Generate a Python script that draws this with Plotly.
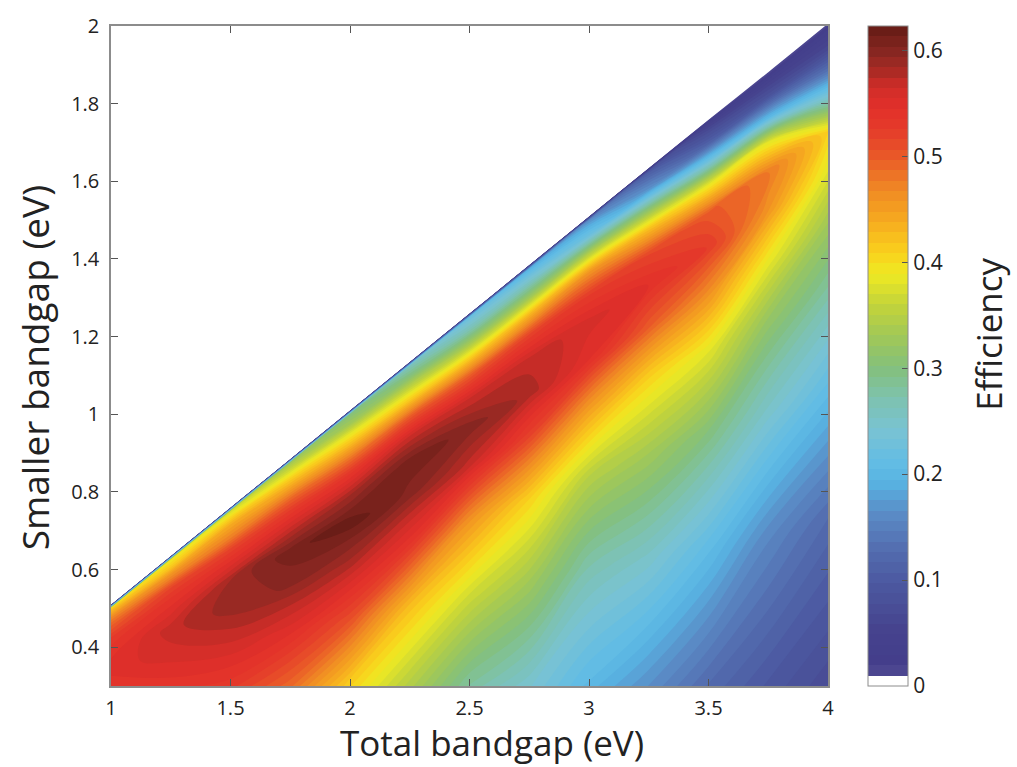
import numpy as np
import plotly.graph_objects as go

# Total bandgap columns (eV)
total_gap = [1.0, 1.25, 1.5, 1.75, 2.0, 2.25, 2.5, 2.75, 3.0, 3.25, 3.5, 3.75, 4.0]

# Position of each sample between the lowest smaller bandgap (0.3 eV, fraction 0)
# and the equal split of the total bandgap (fraction 1)
gap_fraction = [0.0, 0.25, 0.45, 0.6, 0.7, 0.78, 0.84, 0.89, 0.93, 0.965, 1.0]

# Efficiency along each total-bandgap column, bottom to equal-split edge
eff_100 = [0.54, 0.55, 0.54, 0.53, 0.51, 0.495, 0.48, 0.465, 0.445, 0.43, 0.41]
eff_125 = [0.54, 0.56, 0.57, 0.55, 0.535, 0.515, 0.48, 0.455, 0.425, 0.405, 0.39]
eff_150 = [0.53, 0.565, 0.59, 0.585, 0.55, 0.52, 0.48, 0.455, 0.435, 0.405, 0.37]
eff_175 = [0.49, 0.55, 0.595, 0.61, 0.57, 0.53, 0.49, 0.445, 0.41, 0.37, 0.33]
eff_200 = [0.41, 0.51, 0.58, 0.62, 0.585, 0.535, 0.48, 0.425, 0.38, 0.33, 0.30]
eff_225 = [0.345, 0.425, 0.54, 0.60, 0.61, 0.565, 0.50, 0.42, 0.36, 0.305, 0.26]
eff_250 = [0.28, 0.37, 0.46, 0.57, 0.60, 0.565, 0.50, 0.41, 0.33, 0.27, 0.22]
eff_275 = [0.245, 0.33, 0.41, 0.52, 0.58, 0.57, 0.52, 0.43, 0.33, 0.26, 0.19]
eff_300 = [0.20, 0.27, 0.35, 0.455, 0.545, 0.56, 0.525, 0.455, 0.34, 0.23, 0.16]
eff_325 = [0.165, 0.25, 0.33, 0.41, 0.50, 0.545, 0.515, 0.42, 0.30, 0.17, 0.10]
eff_350 = [0.125, 0.21, 0.30, 0.385, 0.465, 0.525, 0.50, 0.385, 0.235, 0.11, 0.04]
eff_375 = [0.095, 0.16, 0.25, 0.32, 0.39, 0.46, 0.48, 0.38, 0.20, 0.085, 0.02]
eff_400 = [0.07, 0.125, 0.21, 0.28, 0.33, 0.38, 0.41, 0.25, 0.14, 0.065, 0.02]

columns = [eff_100, eff_125, eff_150, eff_175, eff_200, eff_225, eff_250,
           eff_275, eff_300, eff_325, eff_350, eff_375, eff_400]

# Tick positions
cbar_ticks = [0, 0.1, 0.2, 0.3, 0.4, 0.5, 0.6]
x_ticks = [1, 1.5, 2, 2.5, 3, 3.5, 4]
y_ticks = [0.4, 0.6, 0.8, 1.0, 1.2, 1.4, 1.6, 1.8, 2.0]

E_MIN = 0.3     # lowest smaller bandgap shown
Z_MAX = 0.623   # top of the colour range
N_LEVELS = 64
STEP = Z_MAX / N_LEVELS

# ---- curvilinear grid: columns at fixed total bandgap, rows between 0.3 eV and Eg/2
a = np.array(total_gap)
t = np.array(gap_fraction)
X = np.tile(a, (len(t), 1))
Y = E_MIN + t[:, None] * (a[None, :] / 2 - E_MIN)
Z = np.array(columns).T

# thin zero-efficiency rim just past the equal-split edge
rim = 0.01
X = np.vstack([X, a])
Y = np.vstack([Y, a / 2 + rim])
Z = np.vstack([Z, np.zeros_like(a)])
b = np.append(t, 1.0 + rim)

# colour map: white below the first level, then blue -> cyan -> green -> yellow -> red -> maroon
stops = [
    (0.01, "#433d8a"), (0.05, "#46438e"), (0.10, "#4d5ca3"), (0.13, "#5470b2"),
    (0.16, "#5a8cc6"), (0.19, "#58b3e2"), (0.21, "#63bde4"), (0.24, "#79c3d3"),
    (0.27, "#7dc2b0"), (0.30, "#84c07c"), (0.33, "#a0c858"), (0.36, "#c3d43a"),
    (0.39, "#eee923"), (0.41, "#fad21c"), (0.44, "#f6ac1f"), (0.47, "#f08a24"),
    (0.49, "#ec6b27"), (0.51, "#e84f29"), (0.53, "#e43a2a"), (0.55, "#e2302a"),
    (0.57, "#cf2d28"), (0.585, "#a92a24"), (0.60, "#8c2823"), (0.623, "#6a1d17"),
]


def level_pos(v):
    # filled contour colours span [start - step/2, end + step/2]
    return float(np.clip((v / STEP - 0.5) / N_LEVELS, 0.0, 1.0))


colorscale = [[0.0, "#ffffff"], [0.002, "#ffffff"]]
for v, c in stops:
    p = max(level_pos(v), 0.003)
    colorscale.append([p, c])
colorscale.append([1.0, stops[-1][1]])

FONT = "Open Sans"
TXT = "#222222"
FRAME = "#8c8c8c"

fig = go.Figure()
fig.add_trace(go.Carpet(
    a=a, b=b, x=X, y=Y, carpet="grid",
    aaxis=dict(showgrid=False, showline=False, showticklabels="none",
               startline=False, endline=False, minorgridcount=0, title=dict(text="")),
    baxis=dict(showgrid=False, showline=False, showticklabels="none",
               startline=False, endline=False, minorgridcount=0, title=dict(text="")),
))
fig.add_trace(go.Contourcarpet(
    a=a, b=b, z=Z, carpet="grid",
    autocontour=False,
    contours=dict(coloring="fill", start=STEP, end=N_LEVELS * STEP, size=STEP,
                  showlines=False),
    line=dict(width=0, smoothing=1.0),
    zmin=0, zmax=Z_MAX,
    colorscale=colorscale,
    colorbar=dict(
        x=(868 - 111) / 717, xanchor="left", xpad=0,
        y=0.5, yanchor="middle", len=1.0, lenmode="fraction", ypad=0,
        thickness=40, thicknessmode="pixels",
        outlinecolor=FRAME, outlinewidth=1,
        tickvals=cbar_ticks, ticktext=[f"{v:g}" for v in cbar_ticks],
        ticks="inside", ticklen=6, tickcolor="#555555",
        tickfont=dict(family=FONT, size=21, color=TXT),
    ),
))

fig.update_layout(
    width=1017, height=767,
    margin=dict(l=111, r=189, t=17, b=81),
    paper_bgcolor="white", plot_bgcolor="white",
    font=dict(family=FONT, color=TXT),
    showlegend=False,
    annotations=[
        dict(text="Total bandgap (eV)", xref="paper", yref="paper",
             x=(492 - 111) / 717, y=(686 - 743) / 669, xanchor="center", yanchor="middle",
             showarrow=False, font=dict(family=FONT, size=35, color=TXT)),
        dict(text="Smaller bandgap (eV)", xref="paper", yref="paper",
             x=(34 - 111) / 717, y=(686 - 364) / 669, xanchor="center", yanchor="middle",
             textangle=-90, showarrow=False, font=dict(family=FONT, size=37, color=TXT)),
        dict(text="Efficiency", xref="paper", yref="paper",
             x=(989 - 111) / 717, y=(686 - 330) / 669, xanchor="center", yanchor="middle",
             textangle=-90, showarrow=False, font=dict(family=FONT, size=35, color=TXT)),
    ],
)
fig.update_xaxes(
    range=[1, 4], tickvals=x_ticks, ticktext=[f"{v:g}" for v in x_ticks],
    ticks="inside", ticklen=7, tickcolor="#555555", mirror="ticks",
    showline=True, linecolor=FRAME, linewidth=1.5, showgrid=False, zeroline=False,
    tickfont=dict(family=FONT, size=20, color=TXT), ticklabelstandoff=3,
)
fig.update_yaxes(
    range=[E_MIN, 2.0], tickvals=y_ticks, ticktext=[f"{v:g}" for v in y_ticks],
    ticks="inside", ticklen=7, tickcolor="#555555", mirror="ticks",
    showline=True, linecolor=FRAME, linewidth=1.5, showgrid=False, zeroline=False,
    tickfont=dict(family=FONT, size=20, color=TXT), ticklabelstandoff=6,
)

fig.write_html("out.html")
